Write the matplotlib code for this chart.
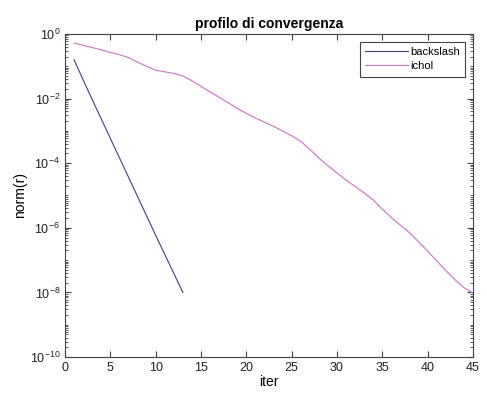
import numpy as np
import matplotlib.pyplot as plt
from matplotlib.ticker import LogLocator, FixedLocator, NullFormatter

plt.rcParams['font.family'] = ['Liberation Sans', 'DejaVu Sans']

# data (log10 of the residual norm)
iter_backslash = list(range(1, 14))
log_backslash = [-0.8, -1.42, -2.03, -2.63, -3.23, -3.83, -4.43,
                 -5.03, -5.63, -6.23, -6.82, -7.41, -8.0]

iter_ichol = list(range(1, 46))
log_ichol = [-0.28, -0.35, -0.42, -0.49, -0.57, -0.64, -0.73, -0.87, -1.0, -1.12,
             -1.17, -1.22, -1.3, -1.45, -1.62, -1.79, -1.96, -2.13, -2.3, -2.46,
             -2.6, -2.73, -2.86, -3.0, -3.15, -3.32, -3.57, -3.84, -4.08, -4.3,
             -4.52, -4.72, -4.92, -5.14, -5.42, -5.68, -5.92, -6.15, -6.43, -6.72,
             -7.02, -7.32, -7.6, -7.85, -8.02]

BLUE = "#3c3ca0"
MAGENTA = "#d070d0"

fig = plt.figure(figsize=(4.87, 3.98), dpi=100)
ax = fig.add_axes([0.1335, 0.103, 0.8375, 0.8116])

ax.semilogy(iter_backslash, 10.0 ** np.array(log_backslash), color=BLUE, lw=0.8, label="backslash")
ax.semilogy(iter_ichol, 10.0 ** np.array(log_ichol), color=MAGENTA, lw=0.8, label="ichol")

ax.set_xlim(0, 45)
ax.set_ylim(1e-10, 1)
ax.set_xticks(range(0, 46, 5))
ax.yaxis.set_major_locator(FixedLocator([10.0 ** k for k in range(-10, 1, 2)]))
ax.yaxis.set_minor_locator(LogLocator(base=10, subs=np.arange(1, 10), numticks=20))
ax.yaxis.set_minor_formatter(NullFormatter())

ax.tick_params(which="both", direction="in", top=True, right=True, labelsize=9,
               color="#444444", labelcolor="#222222")
ax.tick_params(which="major", length=4)
ax.tick_params(which="minor", length=2)
for s in ax.spines.values():
    s.set_linewidth(0.8)
    s.set_color("#444444")

ax.set_title("profilo di convergenza", fontsize=10, fontweight="bold", pad=4)
ax.set_xlabel("iter", fontsize=10, labelpad=1)
ax.set_ylabel("norm(r)", fontsize=10, labelpad=2)

leg = ax.legend(loc="upper right", fontsize=8, fancybox=False, framealpha=1,
                edgecolor="#444444", handlelength=3.8, borderpad=0.5,
                labelspacing=0.35, handletextpad=0.2, borderaxespad=0.7)
leg.get_frame().set_linewidth(0.8)

fig.savefig("out.png", dpi=100)
